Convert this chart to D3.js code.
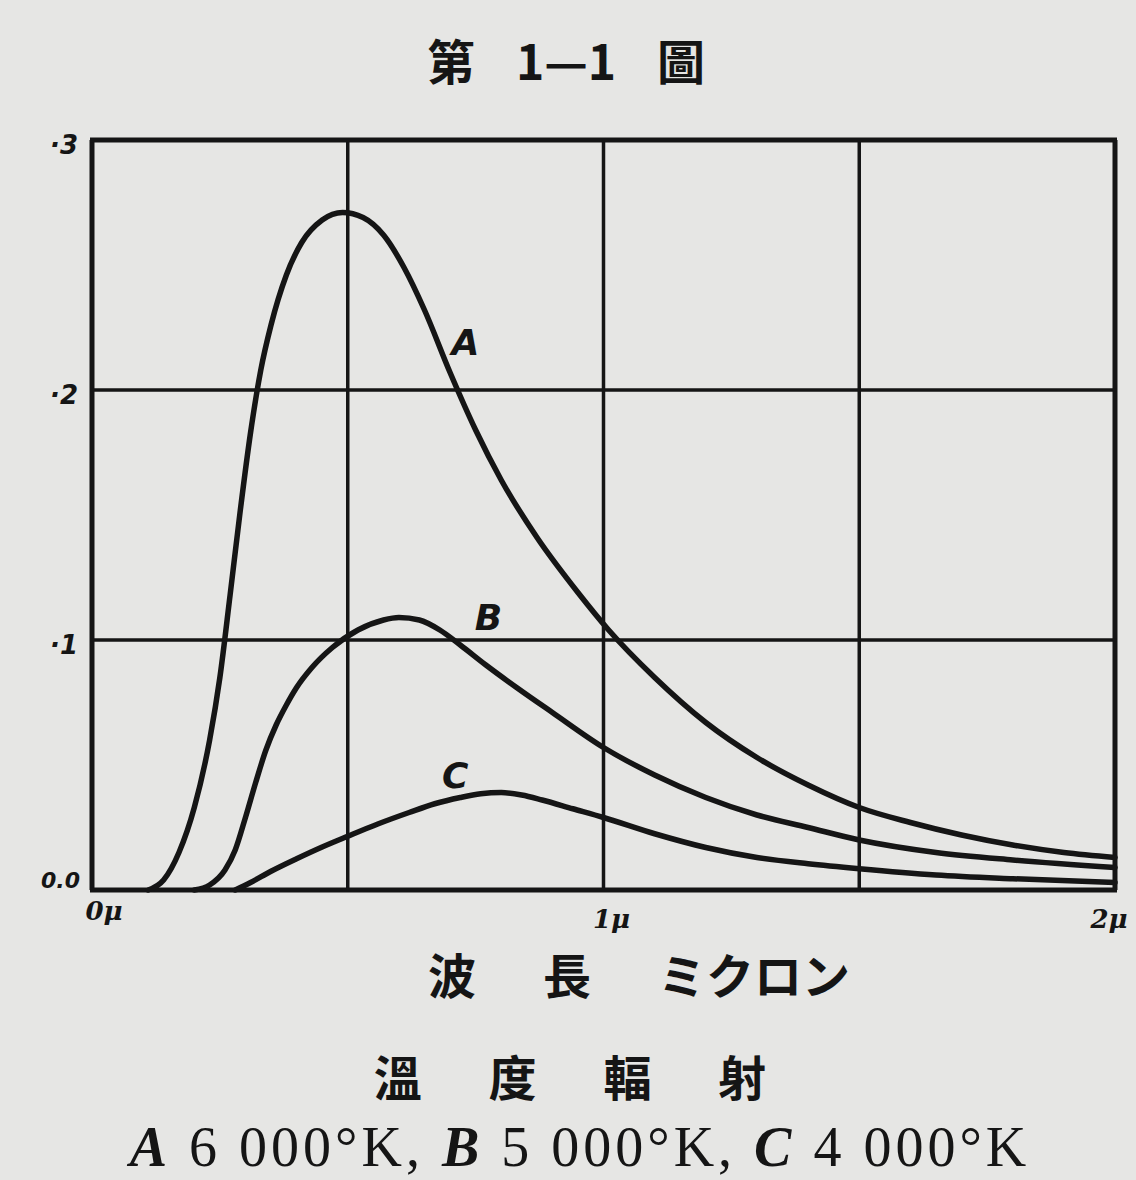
<!DOCTYPE html>
<html><head><meta charset="utf-8">
<script src="https://cdn.jsdelivr.net/npm/d3@7"></script>
<style>
html,body{margin:0;padding:0;background:#e6e6e4;}
svg{display:block;}
</style></head>
<body>
<script>
// ---- data ----
const seriesNames = ["A", "B", "C"];
const curveA = [[0.11,0],[0.14,0.004],[0.17,0.015],[0.20,0.033],[0.23,0.060],[0.25,0.085],[0.27,0.118],[0.29,0.152],[0.31,0.183],[0.33,0.208],[0.35,0.226],[0.38,0.246],[0.41,0.259],[0.45,0.268],[0.49,0.271],[0.53,0.269],[0.57,0.262],[0.61,0.249],[0.65,0.232],[0.70,0.207],[0.75,0.184],[0.80,0.164],[0.87,0.141],[0.95,0.119],[1.01,0.104],[1.1,0.085],[1.2,0.067],[1.3,0.053],[1.4,0.042],[1.5,0.033],[1.6,0.027],[1.7,0.022],[1.8,0.018],[1.9,0.015],[2.0,0.013]];
const curveB = [[0.20,0],[0.23,0.002],[0.26,0.008],[0.28,0.016],[0.30,0.029],[0.32,0.043],[0.34,0.056],[0.36,0.066],[0.38,0.074],[0.40,0.081],[0.43,0.089],[0.47,0.097],[0.52,0.104],[0.57,0.108],[0.60,0.109],[0.64,0.108],[0.68,0.104],[0.72,0.098],[0.77,0.090],[0.83,0.081],[0.90,0.071],[1.0,0.057],[1.1,0.046],[1.2,0.037],[1.3,0.030],[1.4,0.025],[1.5,0.020],[1.65,0.015],[1.8,0.012],[2.0,0.009]];
const curveC = [[0.28,0],[0.31,0.003],[0.35,0.0075],[0.40,0.0125],[0.45,0.0172],[0.50,0.0215],[0.56,0.0265],[0.62,0.031],[0.67,0.0345],[0.72,0.037],[0.76,0.0385],[0.80,0.039],[0.84,0.038],[0.88,0.036],[0.94,0.0325],[1.0,0.029],[1.1,0.0225],[1.2,0.017],[1.3,0.013],[1.4,0.0105],[1.5,0.0085],[1.65,0.006],[1.8,0.0045],[2.0,0.003]];
const labelPos = [[0.73,0.214],[0.775,0.104],[0.71,0.041]];
const xGrid = [0, 0.5, 1, 1.5, 2];
const yGrid = [0, 0.1, 0.2, 0.3];
const xTickValues = [0, 1, 2];
const xTickLabels = ["0μ", "1μ", "2μ"];
const yTickLabels = ["0.0", "·1", "·2", "·3"];
const title = "第 1—1 圖";
const xTitle = "波 長 ミクロン";
const caption1 = "溫 度 輻 射";
const caption2 = [["A", " 6 000°K, "], ["B", " 5 000°K, "], ["C", " 4 000°K"]];

// ---- chart ----
const W = 1136, H = 1180;
const svg = d3.select("body").append("svg").attr("width", W).attr("height", H);
const ink = "#151515";
const x = d3.scaleLinear().domain([0, 2]).range([92, 1115]);
const y = d3.scaleLinear().domain([0, 0.3]).range([890, 140]);

// grid
svg.append("g").selectAll("line").data(xGrid).join("line")
  .attr("x1", d => x(d)).attr("x2", d => x(d)).attr("y1", y(0)).attr("y2", y(0.3))
  .attr("stroke", ink).attr("stroke-width", d => (d === 0 || d === 2) ? 5 : 3.5);
svg.append("g").selectAll("line").data(yGrid).join("line")
  .attr("y1", d => y(d)).attr("y2", d => y(d)).attr("x1", x(0) - 2).attr("x2", x(2) + 2)
  .attr("stroke", ink).attr("stroke-width", d => (d === 0 || d === 0.3) ? 5 : 3.5);

// curves
const line = d3.line().x(d => x(d[0])).y(d => y(d[1])).curve(d3.curveMonotoneX);
[curveA, curveB, curveC].forEach(c => {
  svg.append("path").attr("d", line(c)).attr("fill", "none")
    .attr("stroke", ink).attr("stroke-width", 5.5).attr("stroke-linecap", "round");
});

// series labels
svg.append("g").selectAll("text").data(seriesNames).join("text")
  .attr("x", (d, i) => x(labelPos[i][0])).attr("y", (d, i) => y(labelPos[i][1]))
  .attr("font-family", "DejaVu Sans").attr("font-style", "italic").attr("font-weight", "bold")
  .attr("font-size", 36).attr("fill", ink).attr("text-anchor", "middle").text(d => d);

// y tick labels
svg.append("g").selectAll("text").data(yGrid).join("text")
  .attr("x", (d, i) => i === 0 ? 80 : 78).attr("y", (d, i) => i === 0 ? y(d) - 2 : y(d) + 14)
  .attr("text-anchor", "end").attr("font-family", "DejaVu Sans").attr("font-style", "italic")
  .attr("font-weight", "bold")
  .attr("font-size", (d, i) => i === 0 ? 22 : 26).attr("fill", ink).text((d, i) => yTickLabels[i]);

// x tick labels
svg.append("g").selectAll("text").data(xTickValues).join("text")
  .attr("x", (d, i) => i === 2 ? x(d) - 6 : x(d) + (i === 0 ? 12 : 8)).attr("y", (d, i) => i === 0 ? 920 : 928)
  .attr("text-anchor", "middle").attr("font-family", "DejaVu Serif").attr("font-style", "italic")
  .attr("font-weight", "bold")
  .attr("font-size", 26).attr("fill", ink).text((d, i) => xTickLabels[i]);

// title
svg.append("text").attr("x", 566).attr("y", 80).attr("text-anchor", "middle")
  .attr("font-family", "Noto Sans CJK TC").attr("font-weight", "bold").attr("font-size", 48)
  .attr("word-spacing", 30).attr("fill", ink).text(title);

// x axis title
svg.append("text").attr("x", 639).attr("y", 994).attr("text-anchor", "middle")
  .attr("font-family", "Noto Sans CJK JP").attr("font-weight", "bold").attr("font-size", 48)
  .attr("word-spacing", 56).attr("fill", ink).text(xTitle);

// caption line 1
svg.append("text").attr("x", 570).attr("y", 1096).attr("text-anchor", "middle")
  .attr("font-family", "Noto Sans CJK TC").attr("font-weight", "bold").attr("font-size", 48)
  .attr("word-spacing", 56).attr("fill", ink).text(caption1);

// caption line 2
const c2 = svg.append("text").attr("x", 580).attr("y", 1166).attr("text-anchor", "middle")
  .attr("font-family", "Liberation Serif").attr("font-size", 56).attr("letter-spacing", 4).attr("fill", ink);
caption2.forEach(p => {
  c2.append("tspan").attr("font-style", "italic").attr("font-weight", "bold").text(p[0]);
  c2.append("tspan").text(p[1]);
});
</script>
</body></html>
